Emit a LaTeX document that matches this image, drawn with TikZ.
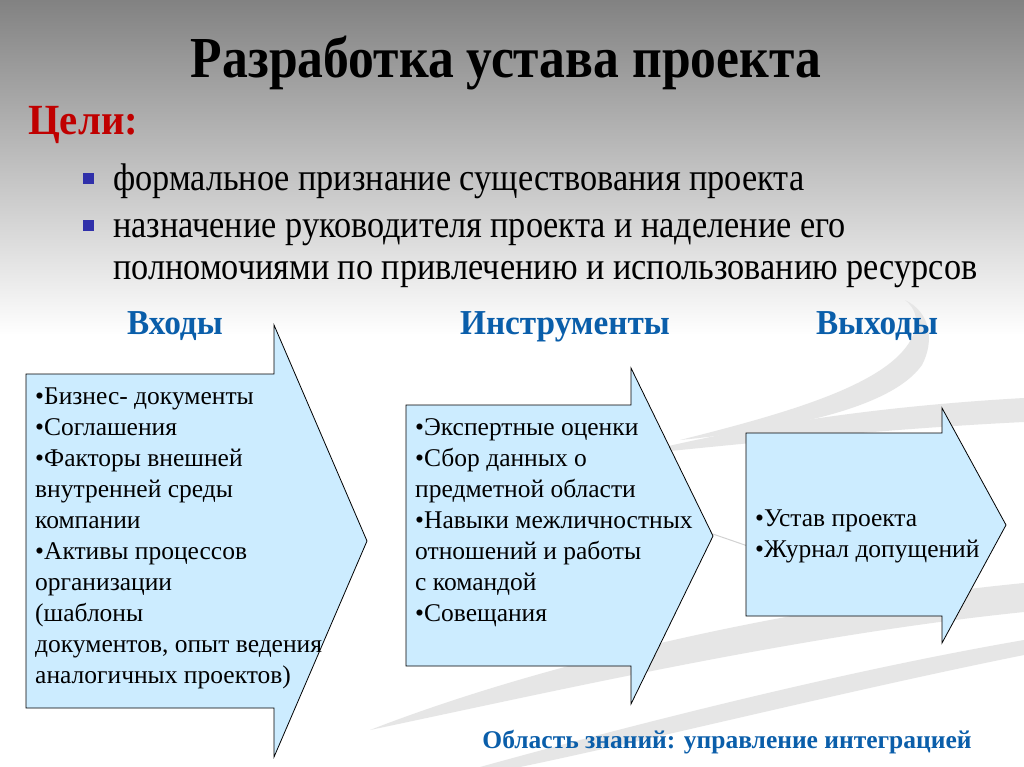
\documentclass[tikz,border=0pt]{standalone}
\usepackage{fontspec}
\setmainfont{Liberation Serif}
\newfontfamily\condfont[FakeStretch=0.89]{Liberation Serif}
\newfontfamily\midfont[FakeStretch=0.95]{Liberation Serif}
\definecolor{hblue}{RGB}{10,94,170}
\definecolor{cred}{RGB}{192,0,0}
\definecolor{afill}{RGB}{204,236,255}
\definecolor{bsq}{RGB}{48,48,170}
\definecolor{topgray}{RGB}{130,130,130}
\definecolor{swoosh}{RGB}{230,230,230}
\tikzset{
  arrowshape/.style={draw=black, line width=0.8pt, fill=afill},
  boxtext/.style={anchor=north west, inner sep=0pt, align=left, font=\fontsize{25.5}{31}\selectfont},
  header/.style={anchor=base, inner sep=0pt, text=hblue, font=\midfont\bfseries\fontsize{35}{38}\selectfont},
  bultext/.style={anchor=base west, inner sep=0pt, font=\condfont\fontsize{38.5}{42}\selectfont},
  bulsq/.style={fill=bsq, draw=none},
  band/.style={fill=swoosh, draw=none}
}
\begin{document}
\begin{tikzpicture}[x=1pt,y=-1pt]
\useasboundingbox (0,0) rectangle (1024,767);
\fill[white] (0,0) rectangle (1024,767);
\shade[top color=topgray, bottom color=white] (0,0) rectangle (1024,335);
% background swooshes
\fill[band] (660,448) .. controls (780,420) and (900,405) .. (1024,398) -- (1024,422) .. controls (900,428) and (780,440) .. (660,452) -- cycle;
\fill[band] (680,440) .. controls (800,410) and (900,380) .. (915,330) .. controls (918,318) and (915,308) .. (905,300) .. controls (930,312) and (935,340) .. (922,365) .. controls (890,410) and (780,430) .. (680,440) -- cycle;
\fill[band] (370,730) .. controls (550,660) and (800,605) .. (1024,583) -- (1024,612) .. controls (800,635) and (560,690) .. (370,730) -- cycle;
\fill[band] (480,767) .. controls (650,720) and (850,670) .. (1024,640) -- (1024,655) .. controls (850,690) and (650,740) .. (520,767) -- cycle;
\draw[swoosh!80!gray, line width=1pt] (700,530) .. controls (720,536) and (735,542) .. (760,550);

% title
\node[anchor=base, inner sep=0pt, font=\condfont\bfseries\fontsize{58}{62}\selectfont] (title) at (506,78) {Разработка устава проекта};
\node[anchor=base west, inner sep=0pt, text=cred, font=\midfont\bfseries\fontsize{43}{46}\selectfont] (goals) at (28,135) {Цели:};
% bullets
\fill[bulsq] (83,173) rectangle (94,184);
\node[bultext] (b1) at (113,191) {формальное признание существования проекта};
\fill[bulsq] (83,220) rectangle (94,231);
\node[bultext] (b2) at (113,237) {назначение руководителя проекта и наделение его};
\node[bultext] (b3) at (113,279) {полномочиями по привлечению и использованию ресурсов};

% headers
\node[header] (h1) at (175,334) {Входы};
\node[header] (h2) at (565,334) {Инструменты};
\node[header] (h3) at (877,334) {Выходы};

% arrows
\draw[arrowshape] (26,374) -- (274,374) -- (274,325) -- (367,541) -- (274,757) -- (274,708) -- (26,708) -- cycle;
\draw[arrowshape] (406,405) -- (631,405) -- (631,368) -- (713,536) -- (631,704) -- (631,666) -- (406,666) -- cycle;
\draw[arrowshape] (746,433) -- (942,433) -- (942,408) -- (1006,525) -- (942,643) -- (942,616) -- (746,616) -- cycle;

% arrow texts
\node[boxtext] (t1) at (35,388) {•Бизнес- документы\\•Соглашения\\•Факторы внешней\\внутренней среды\\компании\\•Активы процессов\\организации\\(шаблоны\\документов, опыт ведения\\аналогичных проектов)};
\node[boxtext] (t2) at (415,418) {•Экспертные оценки\\•Сбор данных о\\предметной области\\•Навыки межличностных\\отношений и работы\\с командой\\•Совещания};
\node[boxtext] (t3) at (755,510) {•Устав проекта\\•Журнал допущений};

% footer
\node[anchor=base, inner sep=0pt, text=hblue, font=\bfseries\fontsize{25.5}{28}\selectfont] (foot) at (727,748) {Область знаний: управление интеграцией};
\end{tikzpicture}
\end{document}
